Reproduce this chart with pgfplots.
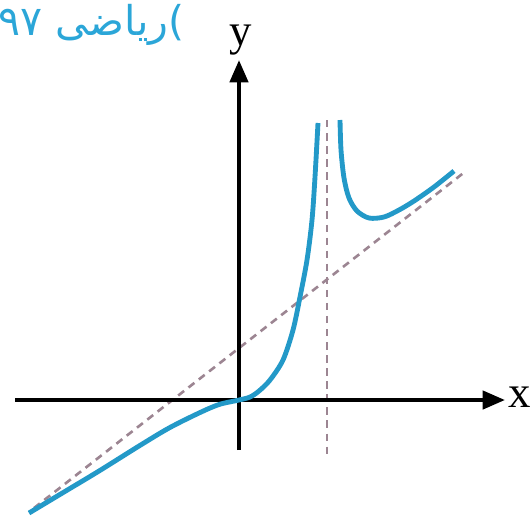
\documentclass[border=0pt]{standalone}
\usepackage{fontspec}
\setmainfont{Liberation Serif}
\newfontfamily\arabicfont[Script=Arabic]{DejaVu Sans}
\newfontfamily\plainsans{DejaVu Sans}
\TeXXeTstate=1
\usepackage{pgfplots}
\pgfplotsset{compat=1.18}
\usetikzlibrary{arrows.meta}
\definecolor{curveBlue}{HTML}{2399C8}
\definecolor{titleBlue}{HTML}{2BA6D8}
\definecolor{asymGray}{HTML}{9C8592}

\begin{document}
\begin{tikzpicture}
\begin{axis}[
    width=10cm, height=9.699cm,
    scale only axis,
    hide axis,
    clip=false,
    xmin=-23.9, xmax=29.2,
    ymin=-11.5, ymax=40,
]
% keep the whole axis area as the picture
\path (rel axis cs:0,0) rectangle (rel axis cs:1,1);

% asymptotes
\addplot[asymGray, line width=1.4pt, dash pattern=on 4pt off 3pt] coordinates {(-20.5,-10.8) (22.7,22.9)};
\addplot[asymGray, line width=1.4pt, dash pattern=on 4pt off 3pt] coordinates {(8.8,28) (8.8,-5.6)};

% axes
\draw[line width=2.2pt, -{Triangle[length=0.42cm, width=0.34cm]}] (axis cs:-22.4,0) -- (axis cs:26.6,0);
\draw[line width=2.2pt, -{Triangle[length=0.42cm, width=0.34cm]}] (axis cs:0,-5) -- (axis cs:0,34);
\node[overlay, font=\fontsize{24}{24}\selectfont] at (axis cs:28.1,0.3) {x};
\node[overlay, font=\fontsize{24}{24}\selectfont] at (axis cs:0.2,36.0) {y};

% curve, left of the vertical asymptote
\addplot[curveBlue, line width=2.6pt, smooth] coordinates {
    (-21,-11.3) (-18,-9.5) (-14,-7.1) (-10,-4.6) (-7,-2.8) (-4,-1.3)
    (-2,-0.45) (0,0) (1.1,0.3) (2,0.9) (3.1,2.0) (4.4,4.0) (5.4,7.0)
    (6.1,10.3) (6.8,14) (7.3,18) (7.6,22.3) (7.9,27.7)
};
% curve, right of the vertical asymptote
\addplot[curveBlue, line width=2.6pt, smooth] coordinates {
    (10.1,28) (10.2,25) (10.5,22.2) (11,20.2) (11.8,18.9) (13,18.2)
    (14.5,18.3) (16,19) (17.5,19.9) (19.5,21.3) (21.5,22.9)
};

\node[overlay, anchor=east, text=titleBlue, font=\fontsize{22}{22}\selectfont, inner xsep=0pt]
    at (axis cs:-5.4,37.5) {{\arabicfont\beginR ریاضی ۹۷\endR}{\plainsans(}};
\end{axis}
\end{tikzpicture}
\end{document}
